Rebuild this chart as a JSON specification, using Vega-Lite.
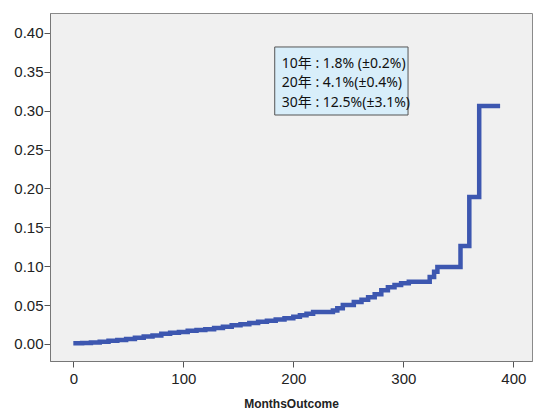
{
  "$schema": "https://vega.github.io/schema/vega-lite/v6.json",
  "width": 482,
  "height": 348,
  "autosize": {"type": "none"},
  "padding": {"left": 50, "top": 13, "right": 2, "bottom": 49},
  "background": "white",
  "config": {
    "view": {"fill": "#f0f0f0", "stroke": "#8a8a8a", "strokeWidth": 1},
    "axis": {
      "grid": false,
      "labelFont": "Liberation Sans",
      "labelFontSize": 15,
      "labelColor": "#222",
      "domainColor": "#777",
      "tickColor": "#555",
      "tickSize": 6
    }
  },
  "layer": [
    {
      "data": {"values": [
        {"month": 0, "cuminc": 0.001},
        {"month": 8, "cuminc": 0.0013},
        {"month": 16, "cuminc": 0.002},
        {"month": 24, "cuminc": 0.003},
        {"month": 32, "cuminc": 0.004},
        {"month": 40, "cuminc": 0.005},
        {"month": 48, "cuminc": 0.0065},
        {"month": 56, "cuminc": 0.008},
        {"month": 64, "cuminc": 0.0095},
        {"month": 72, "cuminc": 0.011},
        {"month": 80, "cuminc": 0.013},
        {"month": 88, "cuminc": 0.0145},
        {"month": 96, "cuminc": 0.0155},
        {"month": 104, "cuminc": 0.017},
        {"month": 112, "cuminc": 0.018},
        {"month": 120, "cuminc": 0.019},
        {"month": 128, "cuminc": 0.0205},
        {"month": 136, "cuminc": 0.022},
        {"month": 144, "cuminc": 0.024},
        {"month": 152, "cuminc": 0.0255},
        {"month": 160, "cuminc": 0.027},
        {"month": 168, "cuminc": 0.0285},
        {"month": 176, "cuminc": 0.030},
        {"month": 184, "cuminc": 0.0315},
        {"month": 192, "cuminc": 0.033},
        {"month": 200, "cuminc": 0.035},
        {"month": 206, "cuminc": 0.037},
        {"month": 212, "cuminc": 0.039},
        {"month": 218, "cuminc": 0.041},
        {"month": 236, "cuminc": 0.043},
        {"month": 240, "cuminc": 0.046},
        {"month": 245, "cuminc": 0.050},
        {"month": 255, "cuminc": 0.054},
        {"month": 262, "cuminc": 0.057},
        {"month": 268, "cuminc": 0.060},
        {"month": 274, "cuminc": 0.064},
        {"month": 280, "cuminc": 0.069},
        {"month": 286, "cuminc": 0.073},
        {"month": 292, "cuminc": 0.076},
        {"month": 298, "cuminc": 0.078},
        {"month": 305, "cuminc": 0.080},
        {"month": 324, "cuminc": 0.086},
        {"month": 328, "cuminc": 0.093},
        {"month": 331, "cuminc": 0.099},
        {"month": 352, "cuminc": 0.126},
        {"month": 360, "cuminc": 0.189},
        {"month": 369, "cuminc": 0.306},
        {"month": 388, "cuminc": 0.306}
      ]},
      "mark": {"type": "line", "interpolate": "step-after", "color": "#3d57b0", "strokeWidth": 4.5},
      "encoding": {
        "x": {
          "field": "month", "type": "quantitative",
          "scale": {"domain": [-21.2, 417], "nice": false, "zero": false},
          "axis": {
            "values": [0, 100, 200, 300, 400],
            "title": "MonthsOutcome",
            "titleFont": "Liberation Sans",
            "titleFontSize": 12,
            "titleFontWeight": "bold",
            "titleColor": "#222",
            "titlePadding": 12,
            "labelPadding": 4
          }
        },
        "y": {
          "field": "cuminc", "type": "quantitative",
          "scale": {"domain": [-0.0219, 0.4257], "nice": false, "zero": false},
          "axis": {
            "values": [0, 0.05, 0.1, 0.15, 0.2, 0.25, 0.3, 0.35, 0.4],
            "format": ".2f",
            "title": null,
            "labelPadding": 1
          }
        }
      }
    },
    {
      "data": {"values": [{}]},
      "mark": {"type": "rect", "fill": "#d8eefa", "stroke": "#555", "strokeWidth": 1},
      "encoding": {
        "x": {"datum": 183.1, "type": "quantitative"},
        "x2": {"datum": 304.3},
        "y": {"datum": 0.382, "type": "quantitative"},
        "y2": {"datum": 0.2945}
      }
    },
    {
      "data": {"values": [{}]},
      "mark": {"type": "text", "text": "10年 : 1.8% (±0.2%)", "align": "left", "baseline": "middle", "font": "'Noto Sans', 'Noto Sans CJK JP'", "fontSize": 14, "color": "#111"},
      "encoding": {
        "x": {"datum": 189.5, "type": "quantitative"},
        "y": {"datum": 0.360, "type": "quantitative"}
      }
    },
    {
      "data": {"values": [{}]},
      "mark": {"type": "text", "text": "20年 : 4.1%(±0.4%)", "align": "left", "baseline": "middle", "font": "'Noto Sans', 'Noto Sans CJK JP'", "fontSize": 14, "color": "#111"},
      "encoding": {
        "x": {"datum": 189.5, "type": "quantitative"},
        "y": {"datum": 0.3357, "type": "quantitative"}
      }
    },
    {
      "data": {"values": [{}]},
      "mark": {"type": "text", "text": "30年 : 12.5%(±3.1%)", "align": "left", "baseline": "middle", "font": "'Noto Sans', 'Noto Sans CJK JP'", "fontSize": 14, "color": "#111"},
      "encoding": {
        "x": {"datum": 189.5, "type": "quantitative"},
        "y": {"datum": 0.310, "type": "quantitative"}
      }
    }
  ]
}
